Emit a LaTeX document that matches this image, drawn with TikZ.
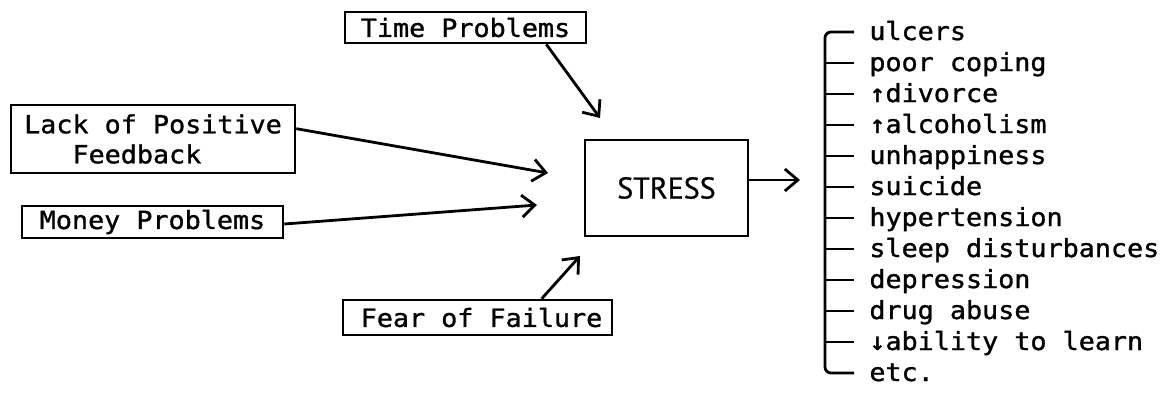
\documentclass[tikz,border=0pt]{standalone}
\usepackage{fontspec}
\usetikzlibrary{arrows.meta,calc}
\newfontfamily\monof[FakeStretch=1.07,FakeBold=1.2]{DejaVu Sans Mono}
\newfontfamily\stressf[FakeBold=0.6]{PT Sans}
\begin{document}
\begin{tikzpicture}[x=0.5pt,y=-0.5pt,
  txt/.style={font=\monof\fontsize{12.5}{15}\selectfont},
  box/.style={draw,line width=1.3pt,inner sep=0pt,txt},
  arr/.style={line width=1.4pt,-{Straight Barb[length=6.5pt,width=11pt,line width=1.4pt]}},
  item/.style={anchor=base west,inner sep=0pt,txt},
  tick/.style={line width=1.4pt}]
\useasboundingbox (0,0) rectangle (1164,397);
% boxes
\node[box,minimum width=120.5pt,minimum height=15.5pt] (time) at (465.5,27.5) {Time Problems};
\node[box,align=left,minimum width=142pt,minimum height=34pt] (lack) at (153,139) {Lack of Positive\\\phantom{xxx}Feedback};
\node[box,minimum width=130.5pt,minimum height=16pt] (money) at (152.5,222) {Money Problems};
\node[box,minimum width=134.5pt,minimum height=17.5pt] (fear) at (477.5,317.5) {\hspace*{4pt}Fear of Failure};
\node[draw,line width=1.3pt,inner sep=0pt,minimum width=81.5pt,minimum height=48pt,font=\stressf\fontsize{15}{18}\selectfont] (stress) at (666.5,188) {STRESS};
% arrow tips
\coordinate (tTip) at (600,118);
\coordinate (lTip) at (548,173);
\coordinate (mTip) at (537,205);
\coordinate (fTip) at (580,256);
\coordinate (sTip) at (800,180);
\draw[arr] ($(time.south east)+(-41,0)$) -- (tTip);
\draw[arr] ($(lack.north east)+(0,25)$) -- (lTip);
\draw[arr] ($(money.east)+(0,2)$) -- (mTip);
\draw[arr] ($(fear.north west)+(200,0)$) -- (fTip);
\draw[arr] (stress.east |- sTip) -- (sTip);
% list
\draw[tick,rounded corners=3pt] (854,32) -- (825,32) -- (825,373) -- (854,373);
\foreach \i/\t in {0/ulcers,1/poor coping,2/↑divorce,3/↑alcoholism,4/unhappiness,5/suicide,6/hypertension,7/sleep disturbances,8/depression,9/drug abuse,10/↓ability to learn,11/etc.}{
  \pgfmathsetmacro{\yy}{32+31*\i}
  \node[item] (item\i) at (869,\yy+8) {\t};
}
\foreach \i in {1,...,10}{
  \pgfmathsetmacro{\yy}{32+31*\i}
  \draw[tick] (825,\yy) -- (854,\yy);
}
\end{tikzpicture}
\end{document}
